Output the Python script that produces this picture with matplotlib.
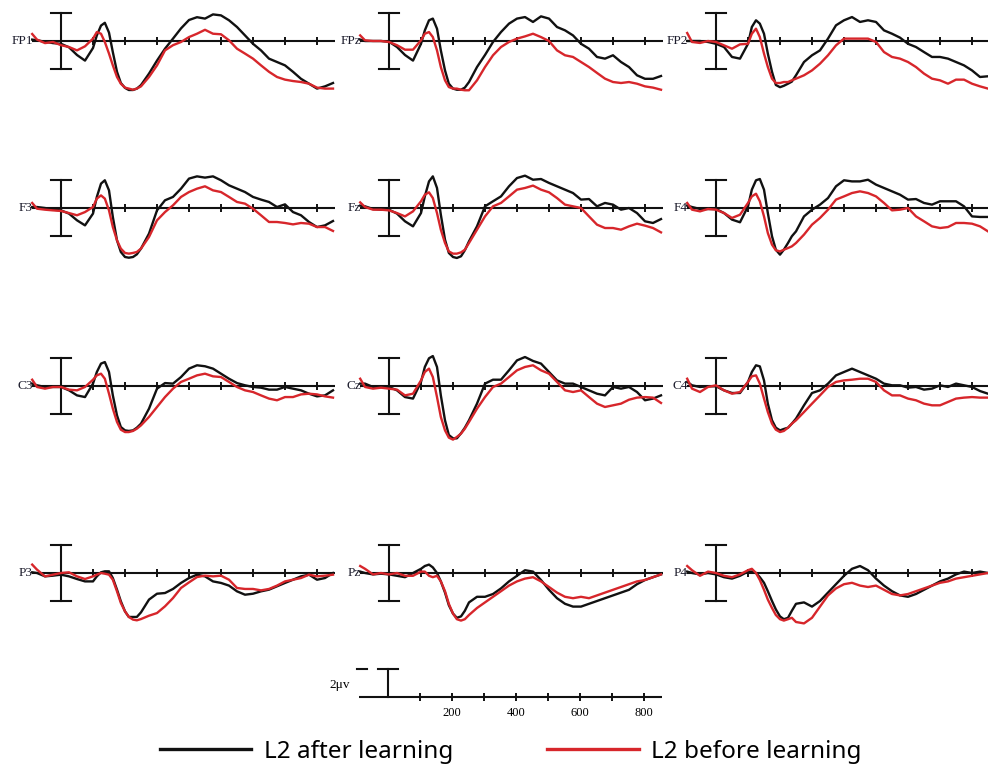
import matplotlib.pyplot as plt
from matplotlib.lines import Line2D

# time axis (ms) shared by all channels
times = [-90, -75, -50, -25, 0, 25, 50, 75, 100,
         112, 125, 137, 150, 162, 175, 187, 200, 212, 225, 237, 250,
         275, 300, 325, 350, 375, 400, 425, 450, 475, 500, 525, 550, 575, 600,
         625, 650, 675, 700, 725, 750, 775, 800, 825, 850]

# amplitudes in microvolts
fp1_after = [0.1, 0.05, -0.05, -0.15, -0.2, -0.45, -1.0, -1.4, -0.5,
             0.4, 1.1, 1.3, 0.6, -0.8, -2.2, -3.0, -3.35, -3.5, -3.5, -3.4, -3.15,
             -2.33, -1.4, -0.55, 0.17, 0.9, 1.5, 1.7, 1.6, 1.9, 1.83, 1.48, 1.0, 0.4, -0.2,
             -0.67, -1.26, -1.5, -1.74, -2.2, -2.7, -3.05, -3.4, -3.24, -3.0]
fp1_before = [0.5, 0.1, -0.15, -0.07, -0.3, -0.43, -0.67, -0.38, 0.17,
              0.64, 0.52, -0.07, -0.9, -1.74, -2.57, -3.05, -3.33, -3.4, -3.48, -3.4, -3.24,
              -2.57, -1.74, -0.67, -0.3, -0.07, 0.28, 0.52, 0.8, 0.52, 0.48, 0.05, -0.55, -0.9, -1.26,
              -1.74, -2.2, -2.57, -2.76, -2.86, -2.93, -3.05, -3.33, -3.4, -3.4]

fpz_after = [0.1, 0.0, 0.0, 0.0, -0.05, -0.43, -1.0, -1.4, -0.2,
             0.76, 1.48, 1.6, 0.88, -0.67, -2.1, -3.05, -3.4, -3.48, -3.48, -3.33, -2.93,
             -1.86, -1.0, -0.07, 0.64, 1.24, 1.6, 1.71, 1.36, 1.76, 1.6, 1.0, 0.76, 0.4, -0.2,
             -0.55, -1.14, -1.26, -1.02, -1.5, -1.86, -2.45, -2.7, -2.7, -2.5]
fpz_before = [0.4, 0.05, 0.0, 0.0, -0.07, -0.3, -0.62, -0.62, 0.05,
              0.52, 0.64, 0.28, -0.67, -1.86, -2.81, -3.29, -3.4, -3.4, -3.48, -3.52, -3.52,
              -2.81, -1.86, -1.02, -0.43, -0.07, 0.17, 0.33, 0.52, 0.28, 0.0, -0.67, -1.02, -1.14, -1.5,
              -1.86, -2.28, -2.69, -2.93, -3.0, -2.93, -3.05, -3.24, -3.33, -3.48]

fp2_after = [0.0, 0.0, 0.0, -0.07, -0.2, -0.43, -1.14, -1.26, -0.2,
             1.0, 1.48, 1.24, 0.52, -0.9, -2.2, -3.14, -3.3, -3.2, -3.05, -2.9, -2.45,
             -1.5, -1.02, -0.67, 0.17, 1.12, 1.48, 1.71, 1.36, 1.48, 1.36, 0.76, 0.52, 0.24, -0.2,
             -0.43, -0.79, -1.14, -1.14, -1.26, -1.5, -1.74, -2.1, -2.57, -2.52]
fp2_before = [0.57, -0.07, -0.14, 0.0, -0.07, -0.31, -0.55, -0.24, -0.2,
              0.52, 0.88, 0.28, -0.9, -1.86, -2.69, -3.0, -3.0, -2.93, -2.93, -2.81, -2.69,
              -2.45, -2.1, -1.62, -1.02, -0.31, 0.17, 0.17, 0.17, 0.17, -0.07, -0.79, -1.14, -1.26, -1.5,
              -1.86, -2.33, -2.69, -2.81, -3.05, -2.76, -2.76, -3.05, -3.24, -3.4]

f3_after = [0.07, 0.07, 0.0, -0.12, -0.17, -0.4, -0.88, -1.24, -0.4,
            0.79, 1.74, 1.98, 1.26, -0.64, -2.31, -3.14, -3.5, -3.55, -3.5, -3.31, -2.9,
            -1.83, -0.17, 0.55, 0.79, 1.38, 2.1, 2.26, 2.17, 2.26, 1.98, 1.62, 1.38, 1.14, 0.79,
            0.6, 0.43, 0.07, 0.26, -0.29, -0.52, -1.0, -1.36, -1.24, -0.93]
f3_before = [0.36, -0.05, -0.12, -0.17, -0.21, -0.36, -0.52, -0.29, 0.07,
             0.67, 0.9, 0.67, -0.17, -1.36, -2.31, -2.9, -3.21, -3.26, -3.21, -3.14, -2.9,
             -2.07, -0.88, -0.29, 0.19, 0.79, 1.14, 1.38, 1.55, 1.26, 1.14, 0.79, 0.43, 0.31, -0.05,
             -0.52, -1.0, -1.0, -1.07, -1.17, -1.07, -1.12, -1.36, -1.36, -1.64]

fz_after = [0.17, 0.12, -0.07, -0.12, -0.12, -0.4, -0.95, -1.31, -0.36,
            0.83, 1.9, 2.26, 1.43, -0.48, -2.26, -3.21, -3.5, -3.57, -3.45, -3.02, -2.38,
            -1.31, 0.12, 0.48, 0.83, 1.55, 2.14, 2.31, 2.02, 2.07, 1.79, 1.55, 1.31, 1.07, 0.6,
            0.64, 0.12, 0.36, 0.24, -0.12, 0.0, -0.36, -0.95, -1.07, -0.79]
fz_before = [0.4, 0.07, -0.12, -0.12, -0.17, -0.36, -0.6, -0.24, 0.48,
             0.95, 1.12, 0.71, -0.36, -1.55, -2.5, -3.1, -3.26, -3.26, -3.17, -2.98, -2.5,
             -1.55, -0.6, 0.12, 0.36, 0.83, 1.31, 1.43, 1.6, 1.31, 1.12, 0.71, 0.24, 0.12, 0.0,
             -0.6, -1.19, -1.43, -1.43, -1.55, -1.31, -1.12, -1.26, -1.43, -1.74]

f4_after = [0.17, 0.07, -0.07, -0.07, -0.07, -0.36, -0.83, -1.02, 0.12,
            1.31, 1.98, 2.07, 1.31, -0.36, -2.02, -2.98, -3.33, -2.98, -2.5, -2.02, -1.67,
            -0.6, -0.12, 0.24, 0.71, 1.55, 1.98, 1.9, 1.9, 2.02, 1.67, 1.43, 1.19, 0.95, 0.6,
            0.64, 0.36, 0.24, 0.48, 0.48, 0.48, 0.12, -0.6, -0.64, -0.64]
f4_before = [0.36, -0.12, -0.24, -0.07, -0.12, -0.36, -0.71, -0.48, 0.36,
             0.83, 1.02, 0.48, -0.6, -1.79, -2.62, -3.02, -3.1, -2.98, -2.86, -2.74, -2.5,
             -1.9, -1.19, -0.71, -0.12, 0.6, 0.83, 1.07, 1.19, 1.07, 0.83, 0.36, -0.17, -0.12, 0.0,
             -0.6, -0.95, -1.31, -1.43, -1.36, -1.07, -1.07, -1.12, -1.31, -1.67]

c3_after = [0.17, 0.05, -0.07, -0.07, -0.07, -0.31, -0.67, -0.79, 0.17,
            1.0, 1.6, 1.71, 1.0, -0.67, -2.1, -2.93, -3.17, -3.21, -3.17, -2.98, -2.69,
            -1.62, -0.19, 0.21, 0.17, 0.64, 1.24, 1.48, 1.41, 1.24, 0.88, 0.52, 0.21, 0.05, -0.07,
            -0.12, -0.26, -0.26, -0.07, -0.19, -0.31, -0.55, -0.74, -0.67, -0.31]
c3_before = [0.45, -0.07, -0.19, -0.07, -0.07, -0.26, -0.31, -0.07, 0.45,
             0.76, 0.88, 0.52, -0.55, -1.62, -2.57, -3.12, -3.29, -3.29, -3.21, -3.05, -2.81,
             -2.21, -1.5, -0.79, -0.19, 0.29, 0.52, 0.76, 0.88, 0.69, 0.64, 0.29, -0.07, -0.31, -0.43,
             -0.67, -0.9, -1.02, -0.79, -0.79, -0.6, -0.55, -0.6, -0.74, -0.83]

cz_after = [0.17, 0.17, -0.07, -0.07, -0.07, -0.31, -0.79, -0.9, 0.29,
            1.36, 1.98, 2.14, 1.36, -0.67, -2.45, -3.5, -3.74, -3.74, -3.38, -2.98, -2.45,
            -1.26, 0.17, 0.45, 0.45, 1.12, 1.83, 2.07, 1.79, 1.6, 1.0, 0.4, 0.17, 0.17, -0.07,
            -0.31, -0.55, -0.67, -0.07, -0.19, -0.07, -0.43, -1.02, -0.9, -0.67]
cz_before = [0.52, -0.07, -0.19, -0.12, -0.19, -0.26, -0.67, -0.55, 0.4,
             1.0, 1.24, 0.64, -0.79, -2.21, -3.17, -3.69, -3.83, -3.64, -3.4, -3.05, -2.57,
             -1.62, -0.79, -0.07, 0.17, 0.64, 1.12, 1.36, 1.48, 1.12, 0.88, 0.29, -0.31, -0.43, -0.31,
             -0.79, -1.26, -1.5, -1.38, -1.26, -0.98, -0.83, -0.79, -0.83, -1.21]

c4_after = [0.29, 0.05, -0.07, -0.02, -0.02, -0.31, -0.5, -0.5, 0.29,
            1.0, 1.48, 1.4, 0.4, -1.26, -2.45, -2.98, -3.17, -3.07, -2.98, -2.69, -2.33,
            -1.38, -0.5, -0.31, 0.17, 0.76, 1.0, 1.24, 1.0, 0.76, 0.52, 0.17, 0.05, 0.05, -0.12,
            -0.07, -0.26, -0.19, 0.05, -0.07, 0.17, 0.05, -0.07, -0.36, -0.55]
c4_before = [0.52, -0.19, -0.43, -0.07, 0.05, -0.31, -0.55, -0.43, 0.29,
             0.69, 0.76, 0.17, -0.9, -1.86, -2.69, -3.12, -3.29, -3.21, -2.98, -2.69, -2.45,
             -1.86, -1.26, -0.67, -0.07, 0.29, 0.4, 0.45, 0.52, 0.52, 0.29, -0.31, -0.67, -0.67, -0.9,
             -1.02, -1.26, -1.38, -1.38, -1.14, -0.9, -0.83, -0.79, -0.83, -0.83]

p3_after = [0.05, 0.0, -0.24, -0.19, -0.12, -0.24, -0.43, -0.6, -0.6,
            -0.24, 0.05, 0.12, 0.12, -0.36, -1.19, -2.02, -2.74, -3.14, -3.14, -3.14, -2.81,
            -1.9, -1.48, -1.43, -1.14, -0.71, -0.36, -0.12, -0.24, -0.6, -0.71, -0.9, -1.31, -1.55, -1.48,
            -1.31, -1.19, -0.95, -0.71, -0.48, -0.24, -0.12, -0.48, -0.36, 0.0]
p3_before = [0.6, 0.24, -0.24, -0.12, 0.0, 0.05, -0.24, -0.43, -0.24,
             -0.12, 0.0, -0.05, -0.12, -0.48, -1.31, -2.14, -2.74, -3.14, -3.33, -3.38, -3.29,
             -3.05, -2.86, -2.38, -1.79, -1.07, -0.67, -0.29, -0.19, -0.24, -0.19, -0.48, -1.07, -1.14, -1.14,
             -1.24, -1.14, -0.9, -0.6, -0.48, -0.36, -0.12, -0.24, -0.19, -0.12]

pz_after = [0.1, 0.0, -0.1, -0.05, -0.1, -0.2, -0.3, 0.0, 0.3,
            0.5, 0.6, 0.4, 0.0, -0.6, -1.4, -2.3, -2.9, -3.2, -3.1, -2.7, -2.1,
            -1.7, -1.7, -1.5, -1.1, -0.6, -0.2, 0.2, 0.1, -0.5, -1.2, -1.8, -2.2, -2.4, -2.4,
            -2.2, -2.0, -1.8, -1.6, -1.4, -1.2, -0.8, -0.5, -0.3, -0.1]
pz_before = [0.5, 0.3, -0.1, 0.0, -0.1, 0.0, -0.2, -0.2, 0.1,
             0.1, -0.2, -0.3, -0.2, -0.6, -1.3, -2.2, -2.9, -3.3, -3.4, -3.3, -3.0,
             -2.5, -2.1, -1.7, -1.3, -0.9, -0.6, -0.4, -0.3, -0.6, -1.0, -1.4, -1.7, -1.8, -1.7,
             -1.8, -1.6, -1.4, -1.2, -1.0, -0.8, -0.6, -0.5, -0.3, -0.1]

p4_after = [0.1, 0.0, -0.1, 0.0, -0.1, -0.3, -0.4, -0.2, 0.1,
            0.1, 0.0, -0.3, -0.7, -1.3, -2.0, -2.6, -3.1, -3.3, -3.2, -2.7, -2.2,
            -2.1, -2.4, -2.0, -1.4, -0.8, -0.2, 0.3, 0.5, 0.2, -0.4, -0.9, -1.3, -1.6, -1.7,
            -1.5, -1.2, -0.9, -0.6, -0.4, -0.1, 0.1, 0.0, 0.1, 0.0]
p4_before = [0.5, 0.2, -0.2, 0.1, 0.0, -0.2, -0.3, -0.1, 0.2,
             0.3, 0.0, -0.5, -1.2, -1.9, -2.5, -3.0, -3.3, -3.4, -3.3, -3.2, -3.5,
             -3.6, -3.2, -2.4, -1.6, -1.1, -0.8, -0.7, -0.9, -1.0, -0.9, -1.2, -1.5, -1.6, -1.5,
             -1.3, -1.1, -0.9, -0.7, -0.6, -0.4, -0.3, -0.2, -0.1, 0.0]

channels = [["FP1", "FPz", "FP2"],
            ["F3", "Fz", "F4"],
            ["C3", "Cz", "C4"],
            ["P3", "Pz", "P4"]]
after = {"FP1": fp1_after, "FPz": fpz_after, "FP2": fp2_after,
         "F3": f3_after, "Fz": fz_after, "F4": f4_after,
         "C3": c3_after, "Cz": cz_after, "C4": c4_after,
         "P3": p3_after, "Pz": pz_after, "P4": p4_after}
before = {"FP1": fp1_before, "FPz": fpz_before, "FP2": fp2_before,
          "F3": f3_before, "Fz": fz_before, "F4": f4_before,
          "C3": c3_before, "Cz": cz_before, "C4": c4_before,
          "P3": p3_before, "Pz": pz_before, "P4": p4_before}

tick_ms = [100, 200, 300, 400, 500, 600, 700, 800]
scale_labels = [200, 400, 600, 800]

# layout in pixels
W, H = 988, 769
col_zero = [61, 389, 716]
row_axis = [41, 208, 386, 573]
scale_origin = (388, 697)
PX_MS, PX_UV = 0.32, 14
XMIN, XMAX = -140, 880
YMIN, YMAX = -4.8, 2.6

black = '#111111'
red = '#d7262b'
serif = 'Liberation Serif'

fig = plt.figure(figsize=(W / 100, H / 100), dpi=100)


def panel_axes(x0, y0):
    left = x0 + XMIN * PX_MS
    top = y0 - YMAX * PX_UV
    w = (XMAX - XMIN) * PX_MS
    h = (YMAX - YMIN) * PX_UV
    ax = fig.add_axes([left / W, 1 - (top + h) / H, w / W, h / H])
    ax.set_xlim(XMIN, XMAX)
    ax.set_ylim(YMIN, YMAX)
    ax.axis('off')
    return ax


def draw_frame(ax, full_bar=True):
    ax.plot([-92, 855], [0, 0], color=black, lw=1.5, solid_capstyle='butt', zorder=1)
    ax.plot(tick_ms, [0] * len(tick_ms), ls='none', marker='|', ms=6, mew=1.4, color=black, zorder=1)
    low = -2 if full_bar else 0
    ax.plot([0, 0], [low, 2], color=black, lw=1.5, zorder=1)
    ax.plot([-31, 31], [2, 2], color=black, lw=1.5, zorder=1)
    if full_bar:
        ax.plot([-31, 31], [-2, -2], color=black, lw=1.5, zorder=1)


for r, row in enumerate(channels):
    for c, name in enumerate(row):
        ax = panel_axes(col_zero[c], row_axis[r])
        draw_frame(ax)
        ax.plot(times, after[name], color=black, lw=1.7, zorder=3)
        ax.plot(times, before[name], color=red, lw=1.7, zorder=4)
        ax.text(-88, 0, name, ha='right', va='center', fontsize=9.5, family=serif, color='#1c1c2c')

# calibration panel
ax = panel_axes(*scale_origin)
draw_frame(ax, full_bar=False)
ax.plot([-97, -66], [2, 2], color=black, lw=1.5)
ax.text(-118, 0.85, '2μv', ha='right', va='center', fontsize=9.5, family=serif)
for t in scale_labels:
    ax.text(t, -1.15, str(t), ha='center', va='center', fontsize=9, family=serif)

handles = [Line2D([], [], color=black, lw=2.4), Line2D([], [], color=red, lw=2.4)]
fig.legend(handles, ['L2 after learning', 'L2 before learning'], loc='center',
           bbox_to_anchor=(511 / W, 1 - 752 / H), ncol=2, frameon=False,
           prop={'family': 'Noto Sans', 'size': 17.5}, handlelength=3.75,
           handletextpad=0.53, columnspacing=3.87)

fig.savefig('out.png', dpi=100)
